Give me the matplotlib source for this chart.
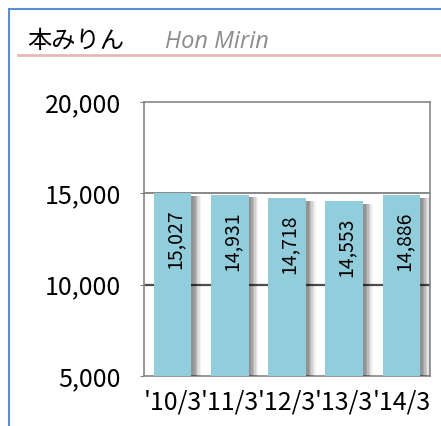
import matplotlib
matplotlib.use("Agg")
import matplotlib.pyplot as plt
import matplotlib.patheffects as pe
from matplotlib.lines import Line2D
import numpy as np

plt.rcParams['font.family'] = ['Noto Sans CJK JP', 'DejaVu Sans']

# データ
years = ["'10/3", "'11/3", "'12/3", "'13/3", "'14/3"]
values = [15027, 14931, 14718, 14553, 14886]
y_ticks = [5000, 10000, 15000, 20000]

fig = plt.figure(figsize=(4.41, 4.26), dpi=100)

# 外枠（左と上だけ見える）
fig.add_artist(Line2D([9 / 441, 9 / 441], [0, 1 - 9 / 426], color="#5B8ED6", lw=1.5))
fig.add_artist(Line2D([9 / 441, 1], [1 - 9 / 426, 1 - 9 / 426], color="#5B8ED6", lw=1.5))
# タイトル下の線
fig.add_artist(Line2D([18 / 441, 1], [1 - 55 / 426, 1 - 55 / 426], color="#E6B9B8", lw=2))

fig.text(27 / 441, 1 - 48 / 426, "本みりん", fontsize=17.5, color="black", va="baseline")
fig.text(165 / 441, 1 - 48 / 426, "Hon Mirin", fontsize=17, color="#8C8C8C",
         style="italic", va="baseline", family=["Open Sans", "DejaVu Sans"])

ax = fig.add_axes([144 / 441, 1 - 376 / 426, (430 - 144) / 441, (376 - 102) / 426])

x = np.arange(len(years))
shadow = [pe.SimplePatchShadow(offset=(d, -2), shadow_rgbFace="black", alpha=a)
          for d, a in [(7, 0.05), (6, 0.06), (5, 0.08), (4, 0.1), (3, 0.12), (2, 0.1)]]
bars = ax.bar(x, values, width=0.66, color="#92CDDC", zorder=3,
              path_effects=shadow + [pe.Normal()])

for xi, v in zip(x, values):
    ax.text(xi + 0.04, v - 900, f"{v:,}", rotation=90, ha="center", va="top",
            fontsize=14, zorder=4)

ax.set_xlim(-0.5, len(years) - 0.5)
ax.set_ylim(5000, 20000)
ax.set_yticks(y_ticks)
ax.set_yticklabels([f"{t:,}" for t in y_ticks], fontsize=18)
ax.set_xticks(x)
ax.set_xticklabels(years, fontsize=18)
ax.tick_params(axis="x", length=0, pad=9.5)
ax.tick_params(axis="y", length=3, color="#808080", pad=13.5)

ax.axhline(15000, color="#7F7F7F", lw=1.3, zorder=1)
ax.axhline(10000, color="#4D4D4D", lw=1.6, zorder=1)

for s in ax.spines.values():
    s.set_color("#868686")
    s.set_linewidth(1.2)

fig.savefig("out.png", dpi=100)
